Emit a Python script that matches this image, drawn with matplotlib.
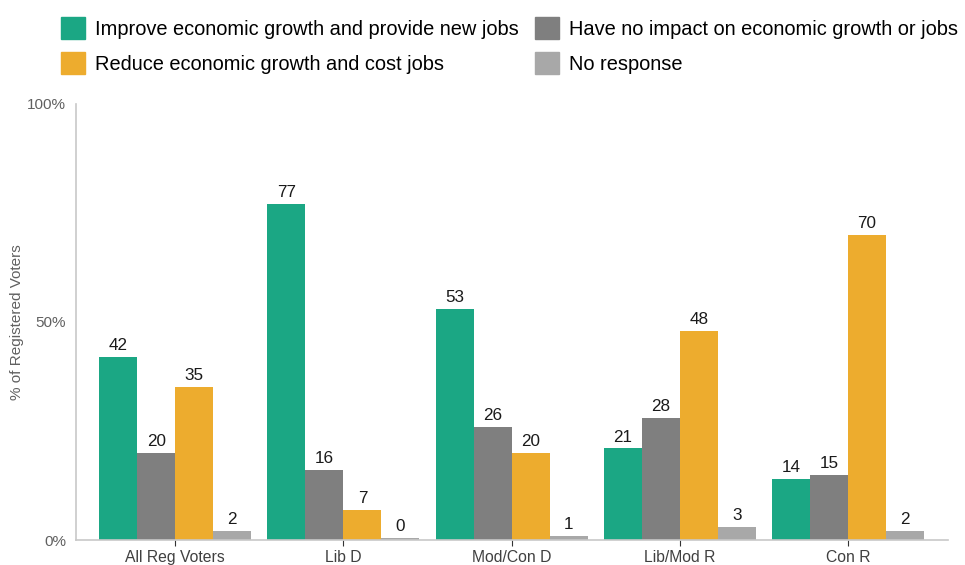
import numpy as np
import matplotlib.pyplot as plt
from matplotlib.patches import Patch

plt.rcParams['font.family'] = ['Liberation Sans', 'DejaVu Sans']

groups = ['All Reg Voters', 'Lib D', 'Mod/Con D', 'Lib/Mod R', 'Con R']
series = ['Improve economic growth and provide new jobs',
          'Reduce economic growth and cost jobs',
          'Have no impact on economic growth or jobs',
          'No response']
improve = [42, 77, 53, 21, 14]
no_impact = [20, 16, 26, 28, 15]
reduce = [35, 7, 20, 48, 70]
no_response = [2, 0.4, 1, 3, 2]

colors = {'improve': '#1ba784', 'no_impact': '#7f7f7f',
          'reduce': '#edac2e', 'no_response': '#a8a8a8'}

fig = plt.figure(figsize=(9.65, 5.65), dpi=100)
ax = fig.add_axes([0.0788, 0.0442, 0.9036, 0.7718])

x = np.arange(len(groups))
w = 0.226
bar_sets = [(improve, colors['improve']), (no_impact, colors['no_impact']),
            (reduce, colors['reduce']), (no_response, colors['no_response'])]
for i, (vals, col) in enumerate(bar_sets):
    pos = x + (i - 1.5) * w
    ax.bar(pos, vals, width=w, color=col, zorder=2)
    for p, v in zip(pos, vals):
        ax.text(p, v + 0.9, f'{v:.0f}', ha='center', va='bottom',
                fontsize=12.3, color='#1a1a1a')

ax.set_xlim(-0.59, 4.595)
ax.set_ylim(0, 100)
ax.set_yticks([0, 50, 100])
ax.set_yticklabels(['0%', '50%', '100%'], color='#606060', fontsize=11)
ax.tick_params(axis='y', length=0, pad=7)
ax.set_xticks(x)
ax.set_xticklabels(groups, fontsize=11.3, color='#404040')
ax.tick_params(axis='x', length=4, color='#333333', pad=3)
for s in ['top', 'right']:
    ax.spines[s].set_visible(False)
for s in ['left', 'bottom']:
    ax.spines[s].set_color('#c8c8c8')
    ax.spines[s].set_linewidth(1.2)
ax.set_ylabel('% of Registered Voters', color='#606060', fontsize=11)
ax.yaxis.set_label_coords(-0.06, 0.5)

handles = [Patch(color=colors['improve']), Patch(color=colors['reduce']),
           Patch(color=colors['no_impact']), Patch(color=colors['no_response'])]
labels = [series[0], series[1], series[2], series[3]]
fig.legend(handles, labels, ncol=2, loc='upper left',
           bbox_to_anchor=(61 / 965, 1 - 17 / 565), frameon=False,
           fontsize=14.4, handlelength=1.2, handleheight=1.3,
           handletextpad=0.5, columnspacing=0.8, labelspacing=0.68,
           borderpad=0, borderaxespad=0)

fig.savefig('out.png', dpi=100)
